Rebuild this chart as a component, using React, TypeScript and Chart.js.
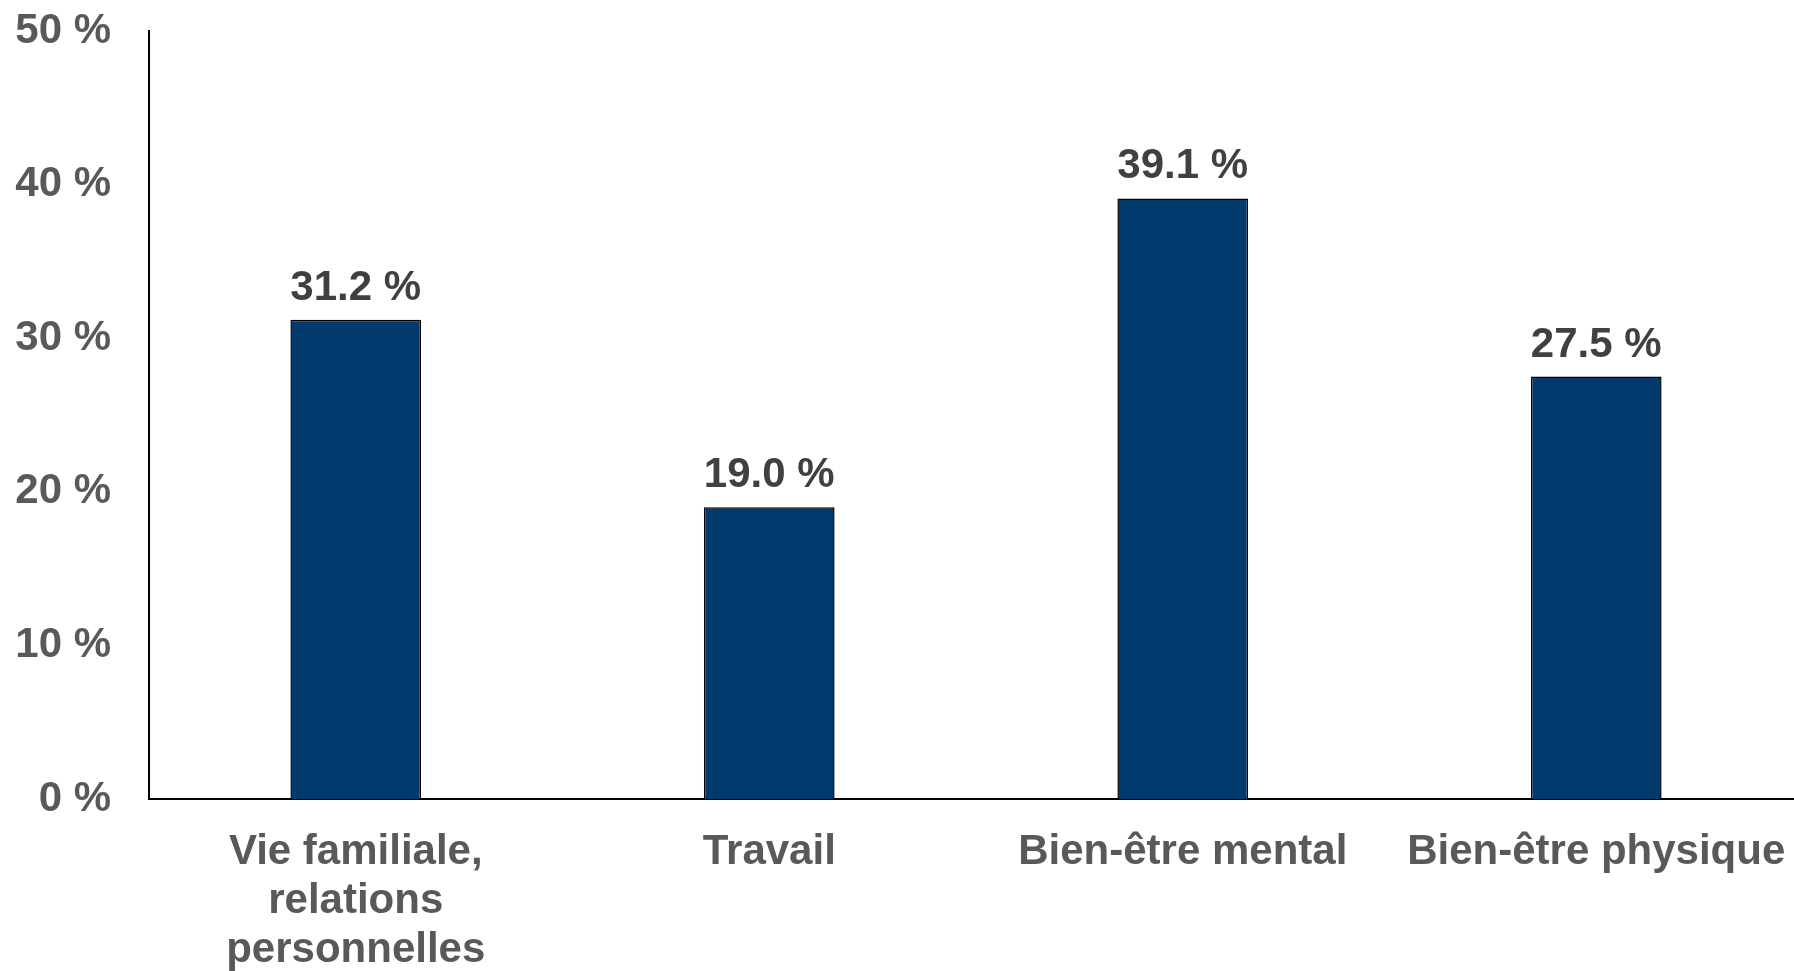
import React, { useEffect, useRef } from "react";
import { Chart, registerables } from "chart.js";

Chart.register(...registerables);

const categories: (string | string[])[] = [
  ["Vie familiale,", "relations", "personnelles"],
  "Travail",
  "Bien-être mental",
  "Bien-être physique",
];
const values: number[] = [31.2, 19.0, 39.1, 27.5];
const yTicks: number[] = [0, 10, 20, 30, 40, 50];

const FONT = "'Liberation Sans', Arial, Helvetica, sans-serif";

const valueLabels = {
  id: "valueLabels",
  afterDatasetsDraw(chart: any) {
    const ctx = chart.ctx;
    const meta = chart.getDatasetMeta(0);
    ctx.save();
    ctx.font = `bold 42px ${FONT}`;
    ctx.fillStyle = "#404040";
    ctx.textAlign = "center";
    ctx.textBaseline = "alphabetic";
    meta.data.forEach((el: any, i: number) => {
      const v = chart.data.datasets[0].data[i] as number;
      ctx.fillText(`${v.toFixed(1)} %`, el.x, el.y - 20);
    });
    ctx.restore();
  },
};

export default function App() {
  const ref = useRef<HTMLCanvasElement | null>(null);

  useEffect(() => {
    document.body.style.margin = "0";
    document.body.style.overflow = "hidden";
    document.documentElement.style.overflow = "hidden";
    if (!ref.current) return;
    const chart = new Chart(ref.current, {
      type: "bar",
      data: {
        labels: categories,
        datasets: [
          {
            data: values,
            backgroundColor: "#023A6E",
            borderColor: "#000000",
            borderWidth: 1.5,
            categoryPercentage: 1,
            barPercentage: 0.316,
          },
        ],
      },
      plugins: [valueLabels],
      options: {
        animation: false,
        responsive: true,
        maintainAspectRatio: false,
        layout: { padding: { top: 31, right: 0, bottom: 0, left: 0 } },
        plugins: {
          legend: { display: false },
          tooltip: { enabled: false },
        },
        scales: {
          x: {
            grid: { display: false, drawTicks: true, tickLength: 29 },
            border: { display: true, color: "#000000", width: 2 },
            ticks: {
              color: "#595959",
              font: { family: FONT, size: 42, weight: "bold", lineHeight: 1.167 },
              padding: 0,
              maxRotation: 0,
              minRotation: 0,
              autoSkip: false,
            },
            afterFit(scale: any) {
              scale.height = 172;
            },
          },
          y: {
            min: 0,
            max: 50,
            afterBuildTicks(scale: any) {
              scale.ticks = yTicks.map((v) => ({ value: v }));
            },
            grid: { display: false, drawTicks: true, tickLength: 38 },
            border: { display: true, color: "#000000", width: 2 },
            ticks: {
              color: "#595959",
              font: { family: FONT, size: 42, weight: "bold" },
              padding: 0,
              callback: (v: any) => `${v} %`,
            },
            afterFit(scale: any) {
              scale.width = 149;
            },
          },
        },
      },
    });
    return () => chart.destroy();
  }, []);

  return (
    <div style={{ width: "1794px", height: "971px", overflow: "hidden", position: "relative" }}>
      <div style={{ width: "1803px", height: "971px", position: "relative" }}>
        <canvas ref={ref} style={{ display: "block" }} />
      </div>
    </div>
  );
}
